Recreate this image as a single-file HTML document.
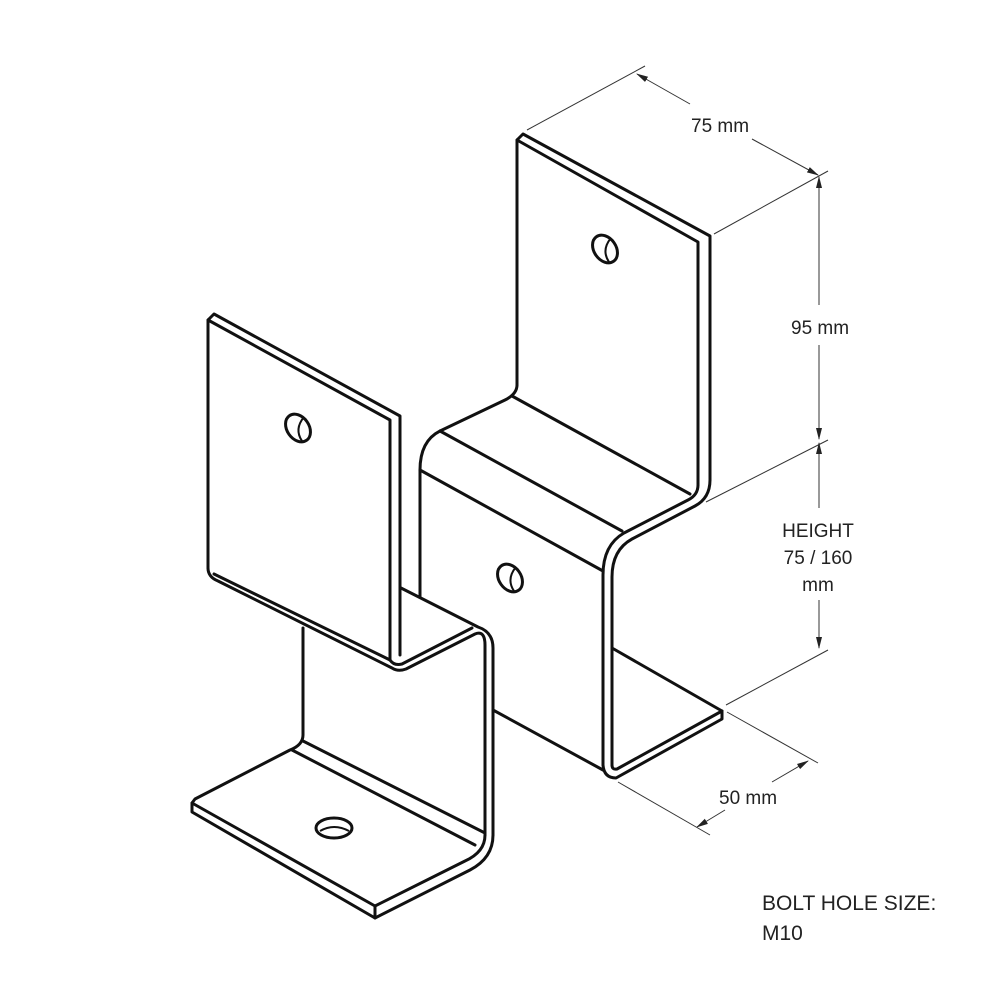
<!DOCTYPE html>
<html><head><style>
html,body{margin:0;padding:0;background:#fff;}
svg{display:block;}
text{font-family:"Liberation Sans",Arial,sans-serif;fill:#222;}
</style></head><body>
<svg width="1000" height="1000" viewBox="0 0 1000 1000" xmlns="http://www.w3.org/2000/svg">
<defs>
<marker id="ar" markerWidth="12" markerHeight="8" refX="11" refY="4" orient="auto" markerUnits="userSpaceOnUse">
<path d="M0,1 L12,4 L0,7 Z" fill="#222"/>
</marker>
</defs>
<g fill="none" stroke="#111" stroke-width="3" stroke-linejoin="round" stroke-linecap="round">
<!-- RIGHT PIECE -->
<!-- top plate -->
<path d="M517,385 L517,140 L523,134 L710,236 L710,480"/>
<path d="M517,140 L698,242 L698,485"/>
<!-- step -->
<path d="M517,385 Q517,394 505,400 L440,431 Q420,441 420,470 L420,597"/>
<path d="M512,396 L690,494"/>
<path d="M440,431 L622,531"/>
<path d="M420,470 L603,571"/>
<path d="M710,480 Q710,498 695,506 L632,539 Q612,550 612,577 L612,765"/>
<path d="M698,485 Q698,495 688,500 L624,533 Q603,545 603,575 L603,765"/>
<!-- mid face bottom & foot -->
<path d="M493,710 L603,770"/>
<path d="M603,765 Q604,778 616,778 L722,719 L722,711 L617,769 Q612,770 612,765"/>
<path d="M612,648 L722,711"/>
<!-- LEFT PIECE -->
<path d="M208,568 L208,320 L214,314 L400,416 L400,655"/>
<path d="M208,320 L390,420 L390,660"/>
<path d="M208,568 Q208,577 218,581 L392,668 Q398,672 406,669 L475,634 Q485,630 485,645 L485,835"/>
<path d="M214,574 L390,660"/>
<path d="M390,660 Q394,666 402,664 L472,628"/>
<path d="M401,588 L478,627 Q493,632 493,648 L493,835"/>
<path d="M303,628 L303,735 Q303,745 290,750 L195,799 L192,803 L192,812 L375,918 L470,870 Q493,858 493,835"/>
<path d="M192,803 L375,906 L375,918"/>
<path d="M375,906 L465,861 Q485,852 485,835"/>
<path d="M303,741 L485,833"/>
<path d="M292,750 L475,845"/>
</g>
<!-- holes -->
<g fill="none" stroke="#111" stroke-width="3">
<ellipse cx="605" cy="249" rx="11" ry="15" transform="rotate(-35 605 249)"/>
<path d="M611,238 Q601,250 609,262" stroke-width="2"/>
<ellipse cx="298" cy="428" rx="11" ry="15" transform="rotate(-35 298 428)"/>
<path d="M304,417 Q294,429 302,441" stroke-width="2"/>
<ellipse cx="510" cy="578" rx="11" ry="15" transform="rotate(-35 510 578)"/>
<path d="M516,567 Q506,579 514,591" stroke-width="2"/>
<ellipse cx="334" cy="828" rx="18" ry="10"/>
<path d="M320,831 Q334,823 349,831" stroke-width="2"/>
</g>
<!-- dimensions -->
<g fill="none" stroke="#333" stroke-width="1">
<line x1="527" y1="130" x2="645" y2="66"/>
<line x1="714" y1="234" x2="828" y2="171"/>
<line x1="706" y1="502" x2="828" y2="440"/>
<line x1="726" y1="705" x2="828" y2="650"/>
<line x1="727" y1="712" x2="818" y2="763"/>
<line x1="618" y1="782" x2="710" y2="835"/>
<line x1="690" y1="104" x2="637" y2="74" marker-end="url(#ar)"/>
<line x1="752" y1="139" x2="818" y2="175" marker-end="url(#ar)"/>
<line x1="819" y1="305" x2="819" y2="177" marker-end="url(#ar)"/>
<line x1="819" y1="345" x2="819" y2="439" marker-end="url(#ar)"/>
<line x1="819" y1="508" x2="819" y2="443" marker-end="url(#ar)"/>
<line x1="819" y1="600" x2="819" y2="648" marker-end="url(#ar)"/>
<line x1="772" y1="782" x2="808" y2="761" marker-end="url(#ar)"/>
<line x1="725" y1="810" x2="697" y2="827" marker-end="url(#ar)"/>
</g>
<g font-size="19">
<text x="691" y="132">75 mm</text>
<text x="791" y="334">95 mm</text>
<text x="818" y="537" text-anchor="middle">HEIGHT</text>
<text x="818" y="564" text-anchor="middle">75 / 160</text>
<text x="818" y="591" text-anchor="middle">mm</text>
<text x="719" y="804">50 mm</text>
<text x="762" y="910" font-size="21">BOLT HOLE SIZE:</text>
<text x="762" y="940" font-size="21">M10</text>
</g>
</svg>
</body></html>
